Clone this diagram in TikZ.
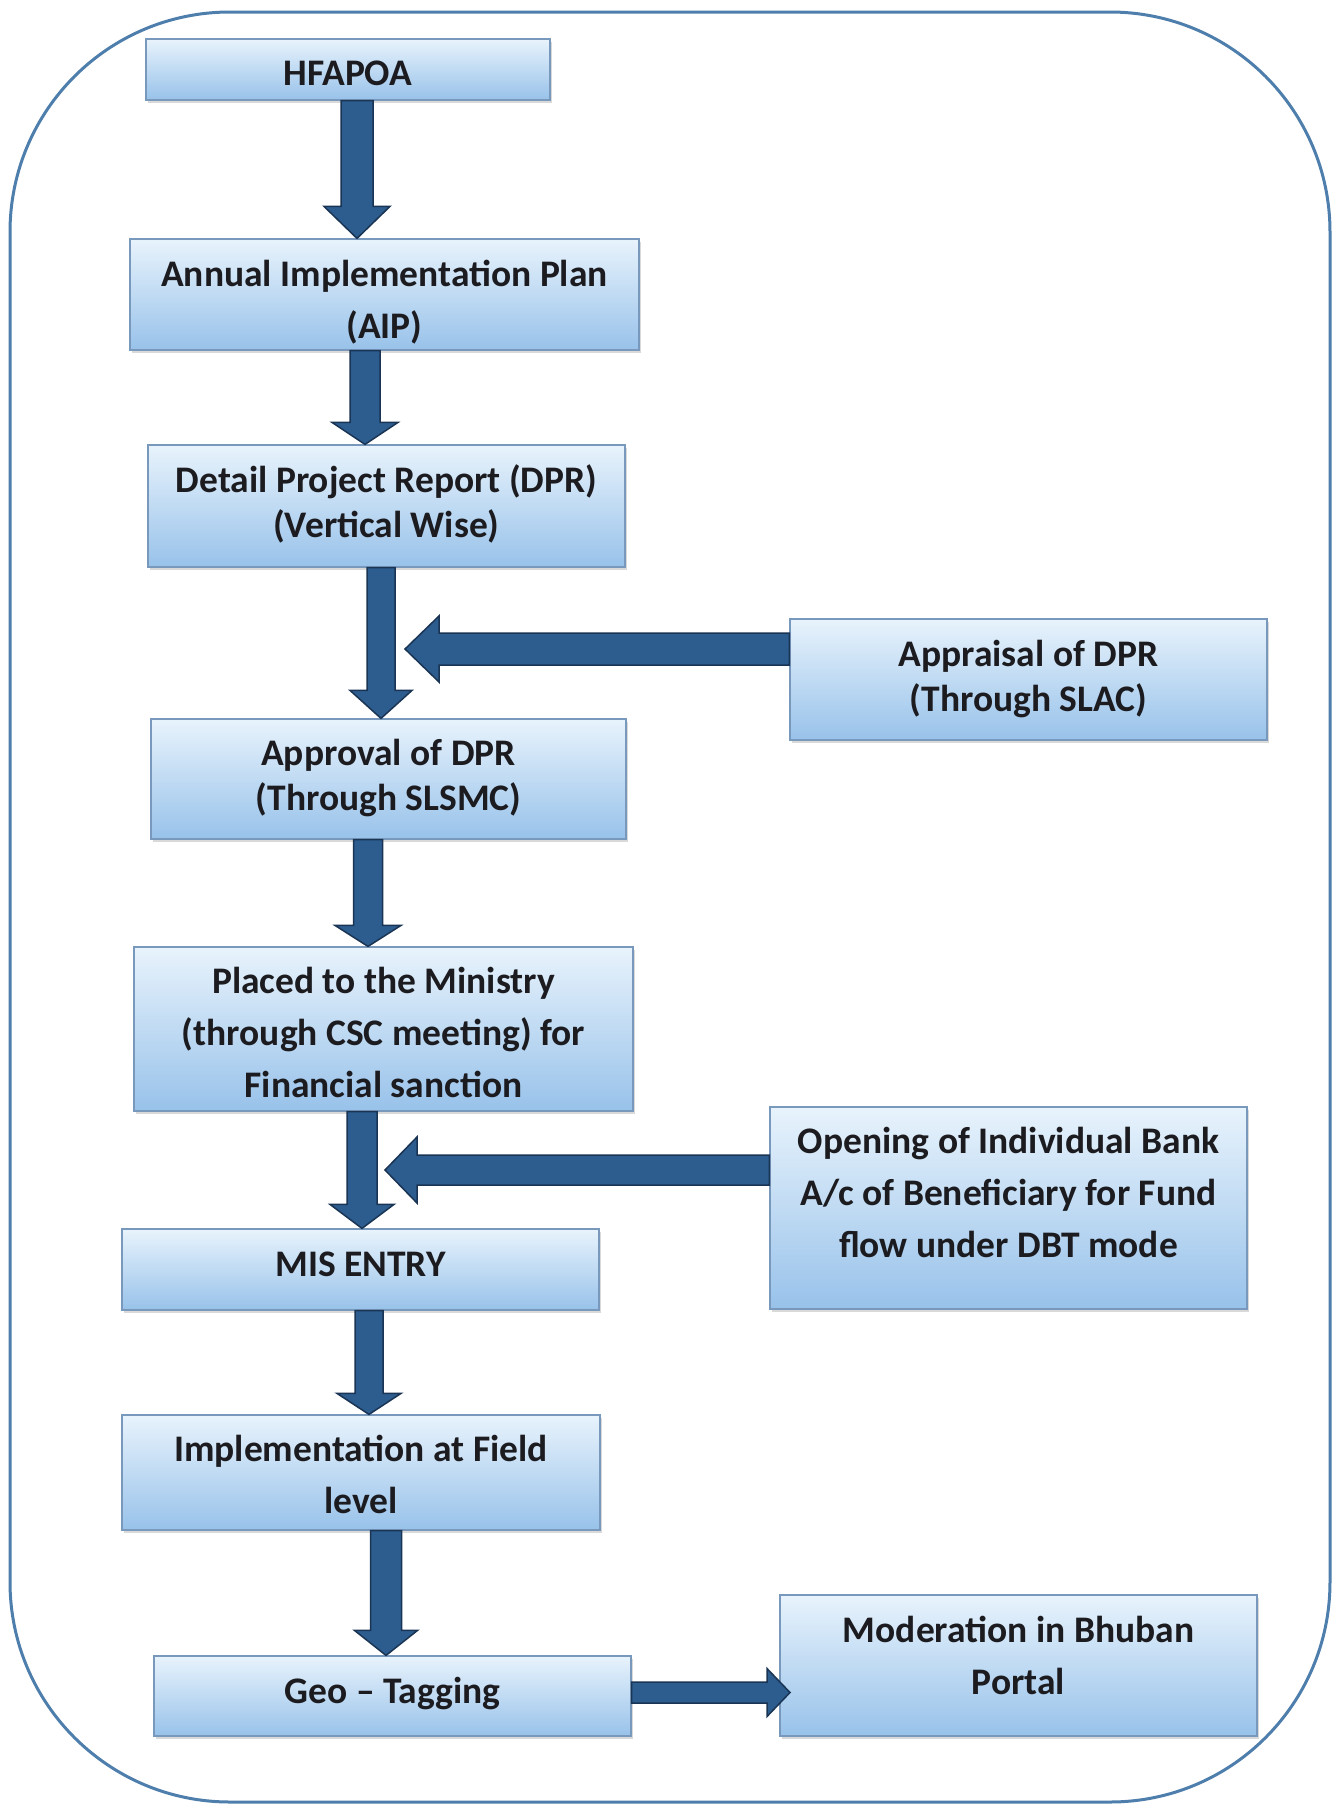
\documentclass[tikz,border=0pt]{standalone}
\usepackage{fontspec}
\setmainfont{Carlito}
\usetikzlibrary{calc,shadows}
\definecolor{arrowblue}{RGB}{45,93,143}
\definecolor{arrowdark}{RGB}{26,52,84}
\definecolor{boxtop}{RGB}{232,243,252}
\definecolor{boxbot}{RGB}{152,194,234}
\definecolor{boxedge}{RGB}{120,152,188}
\definecolor{outerblue}{RGB}{78,126,172}
\definecolor{textcol}{RGB}{28,28,32}
\newcommand\stt{\rule[-0.25em]{0pt}{1em}}
\newcommand\downarr[6]{%
  \path[blockarrow] let \p1=(#1.south), \p2=(#2.north) in
    (#3pt-#4pt,\y1) -- (#3pt-#4pt,\y2+#6pt) -- (#3pt-#5pt,\y2+#6pt) -- (#3pt,\y2)
    -- (#3pt+#5pt,\y2+#6pt) -- (#3pt+#4pt,\y2+#6pt) -- (#3pt+#4pt,\y1) -- cycle;}
\newcommand\leftarr[5]{%
  \path[blockarrow] let \p1=(#1.west), \p2=(#2) in
    (\x1,\y2-#3pt) -- (\x2+#5pt,\y2-#3pt) -- (\x2+#5pt,\y2-#4pt) -- (\x2,\y2)
    -- (\x2+#5pt,\y2+#4pt) -- (\x2+#5pt,\y2+#3pt) -- (\x1,\y2+#3pt) -- cycle;}
\newcommand\rightarr[5]{%
  \path[blockarrow] let \p1=(#1.east), \p2=(#2) in
    (\x1,\y2-#3pt) -- (\x2-#5pt,\y2-#3pt) -- (\x2-#5pt,\y2-#4pt) -- (\x2,\y2)
    -- (\x2-#5pt,\y2+#4pt) -- (\x2-#5pt,\y2+#3pt) -- (\x1,\y2+#3pt) -- cycle;}
\tikzset{
  box/.style={draw=boxedge, line width=1.2pt, top color=boxtop, bottom color=boxbot,
    inner sep=0pt, drop shadow={shadow xshift=1.5pt, shadow yshift=-3pt, opacity=0.25, fill=black!60}},
  txt/.style={align=center, inner sep=0pt, text=textcol,
    font=\fontsize{37.5}{#1}\selectfont\bfseries},
  txt/.default=52,
  blockarrow/.style={fill=arrowblue, draw=arrowdark, line width=1.5pt, line join=miter},
  outer/.style={draw=outerblue, line width=3pt, rounded corners=220pt}
}
\begin{document}
\begin{tikzpicture}[x=1pt,y=-1pt]
\useasboundingbox (0,0) rectangle (1342,1805);
\draw[outer] (10,12) rectangle (1330,1802);
% boxes
\node[box, minimum width=404pt, minimum height=61pt]  (hfa)    at (348,69.5) {};
\node[box, minimum width=509pt, minimum height=111pt] (aip)    at (384.5,294.5) {};
\node[box, minimum width=477pt, minimum height=122pt] (dpr)    at (386.5,506) {};
\node[box, minimum width=475pt, minimum height=120pt] (appr)   at (388.5,779) {};
\node[box, minimum width=477pt, minimum height=121pt] (slac)   at (1028.5,679.5) {};
\node[box, minimum width=499pt, minimum height=164pt] (placed) at (383.5,1029) {};
\node[box, minimum width=477pt, minimum height=202pt] (bank)   at (1008.5,1208) {};
\node[box, minimum width=477pt, minimum height=81pt]  (mis)    at (360.5,1269.5) {};
\node[box, minimum width=478pt, minimum height=115pt] (impl)   at (361,1472.5) {};
\node[box, minimum width=477pt, minimum height=80pt]  (geo)    at (392.5,1696) {};
\node[box, minimum width=477pt, minimum height=141pt] (mod)    at (1018.5,1665.5) {};
% texts
\node[txt] (thfa) at (348,76) {\stt HFAPOA};
\node[txt] (taip) at (384.5,303.5) {\stt Annual Implementation Plan\\\stt (AIP)};
\node[txt=45] (tdpr) at (386.5,506) {\stt Detail Project Report (DPR)\\\stt (Vertical Wise)};
\node[txt=45] (tappr) at (388.5,778.5) {\stt Approval of DPR\\\stt (Through SLSMC)};
\node[txt=45] (tslac) at (1028.5,679.5) {\stt Appraisal of DPR\\\stt (Through SLAC)};
\node[txt] (tplaced) at (383.5,1036) {\stt Placed to the Ministry\\\stt (through CSC meeting) for\\\stt Financial sanction};
\node[txt] (tbank) at (1008.5,1196) {\stt Opening of Individual Bank\\\stt A/c of Beneficiary for Fund\\\stt flow under DBT mode};
\node[txt] (tmis) at (360.5,1267) {\stt MIS ENTRY};
\node[txt] (timpl) at (361,1478) {\stt Implementation at Field\\\stt level};
\node[txt] (tgeo) at (392.5,1694) {\stt Geo -- Tagging};
\node[txt] (tmod) at (1018.5,1659) {\stt Moderation in Bhuban\\\stt Portal};
% tip coordinates of side arrows
\coordinate (c1) at (405,649);
\coordinate (c2) at (385,1170);
\coordinate (c3) at (790,1692.5);
% vertical arrows
\downarr{hfa}{aip}{357}{16}{33}{32}
\downarr{aip}{dpr}{365}{15}{33}{22}
\downarr{dpr}{appr}{381}{14}{31}{28}
\downarr{appr}{placed}{368}{14.5}{33}{21}
\downarr{placed}{mis}{362}{15}{32}{24}
\downarr{mis}{impl}{369}{14}{32}{21}
\downarr{impl}{geo}{386}{15.5}{31.5}{25}
% side arrows
\leftarr{slac}{c1}{16}{33}{34}
\leftarr{bank}{c2}{15}{33}{32}
\rightarr{geo}{c3}{10.5}{24}{23}
\end{tikzpicture}
\end{document}
